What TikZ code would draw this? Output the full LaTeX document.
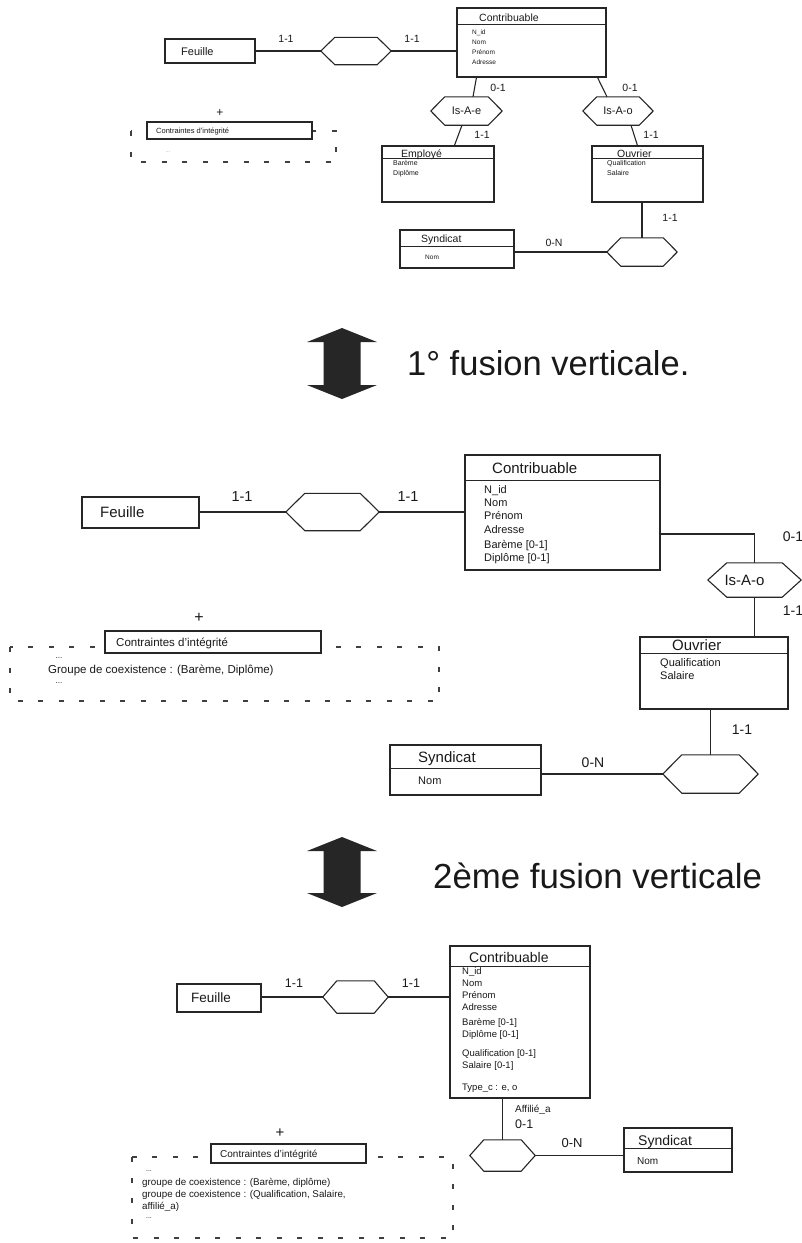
\documentclass[tikz,border=0pt]{standalone}
\usepackage{fontspec}
\setmainfont{Liberation Sans}
\usetikzlibrary{calc}
\newcommand\fs[2]{\fontsize{#1}{#2}\selectfont}
\newcommand\hexa[2]{\draw[ln] (#1.west) -- ($(#1.north west)+(#2,0)$) -- ($(#1.north east)-(#2,0)$) -- (#1.east) -- ($(#1.south east)-(#2,0)$) -- ($(#1.south west)+(#2,0)$) -- cycle;}
\tikzset{
  ln/.style={draw=black!85, line width=1.1pt},
  ent/.style={ln, fill=white, rectangle, inner sep=0pt},
  rel/.style={inner sep=0pt, text=black!90},
  card/.style={inner sep=0pt, text=black!90},
  ttl/.style={inner sep=0pt, anchor=base west, text=black!90},
  att/.style={inner sep=0pt, anchor=north west, align=left, text=black!90},
  dots/.style={draw=black!75, line width=1.3pt, dash pattern=on 5pt off 15.5pt},
  bigarrow/.style={fill=black!85},
}
\begin{document}
\begin{tikzpicture}[x=1pt,y=-1pt]
  \useasboundingbox (0,0) rectangle (801,1243);
  % premier schema
  \node[ent, minimum width=90pt, minimum height=24pt] (f1) at (210,51) {};
  \node[ttl, font=\fs{11}{13}] at (181,55) {Feuille};
  \node[rel, minimum width=70pt, minimum height=27pt] (r1) at (356,51) {};
  \hexa{r1}{14}
  \node[ent, minimum width=149pt, minimum height=69pt] (c1) at (531.5,42.5) {};
  \draw[ln] ($(c1.north west)+(0,17)$) -- ($(c1.north east)+(0,17)$);
  \node[ttl, font=\fs{10.5}{12}] at (479,21) {Contribuable};
  \node[att, font=\fs{6.5}{10}] at (472,29.5) {N\_id\\Nom\\Prénom\\Adresse};
  \node[rel, minimum width=71pt, minimum height=28pt, font=\fs{11}{13}] (e1) at (466.5,111) {Is-A-e};
  \hexa{e1}{14}
  \node[rel, minimum width=70pt, minimum height=28pt, font=\fs{11}{13}] (o1) at (618,111) {Is-A-o};
  \hexa{o1}{14}
  \node[ent, minimum width=112pt, minimum height=56pt] (m1) at (438,174) {};
  \draw[ln] ($(m1.north west)+(0,13)$) -- ($(m1.north east)+(0,13)$);
  \node[ttl, font=\fs{10.5}{12}] at (401,157) {Employé};
  \node[att, font=\fs{7}{10}] at (393,160.5) {Barème\\Diplôme};
  \node[ent, minimum width=111pt, minimum height=56pt] (w1) at (647.5,174) {};
  \draw[ln] ($(w1.north west)+(0,13)$) -- ($(w1.north east)+(0,13)$);
  \node[ttl, font=\fs{10.5}{12}] at (617,157) {Ouvrier};
  \node[att, font=\fs{7}{10}] at (607,160.5) {Qualification\\Salaire};
  \node[rel, minimum width=70pt, minimum height=28pt] (s1) at (642,252) {};
  \hexa{s1}{14}
  \node[ent, minimum width=114pt, minimum height=38pt] (y1) at (457,249) {};
  \draw[ln] ($(y1.north west)+(0,17)$) -- ($(y1.north east)+(0,17)$);
  \node[ttl, font=\fs{10.5}{12}] at (421,242) {Syndicat};
  \node[att, font=\fs{6.5}{8}] at (425,254.5) {Nom};
  \draw[ln] (f1.east |- r1.west) -- (r1.west);
  \draw[ln] (r1.east) -- (r1.east -| c1.west);
  \draw[ln] ($(c1.south west)+(20,0)$) -- ($(e1.north)+(6.5,0)$);
  \draw[ln] ($(e1.south)+(-4.5,0)$) -- ($(m1.north west)+(73,0)$);
  \draw[ln] ($(c1.south east)+(-9,0)$) -- ($(o1.north)+(-11,0)$);
  \draw[ln] ($(o1.south)+(13,0)$) -- ($(w1.north west)+(46,0)$);
  \draw[ln] (s1.north |- w1.south) -- (s1.north);
  \draw[ln] (s1.west -| y1.east) -- (s1.west);
  \node[card, font=\fs{10.5}{12}] at (286,39) {1-1};
  \node[card, font=\fs{10.5}{12}] at (412,39) {1-1};
  \node[card, font=\fs{10.5}{12}] at (498,88) {0-1};
  \node[card, font=\fs{10.5}{12}] at (482,135) {1-1};
  \node[card, font=\fs{10.5}{12}] at (630,88) {0-1};
  \node[card, font=\fs{10.5}{12}] at (651,135) {1-1};
  \node[card, font=\fs{10.5}{12}] at (670,218) {1-1};
  \node[card, font=\fs{10.5}{12}] at (554,243) {0-N};
  \draw[dots] (131,131) rectangle (336,162);
  \node[card, font=\fs{12}{14}] at (220,113) {+};
  \node[ent, minimum width=165pt, minimum height=17pt] (k1) at (229.5,130.5) {};
  \node[ttl, font=\fs{7.5}{9}] at (156,133) {Contraintes d'intégrité};
  \node[card, text=black!35, font=\fs{6}{7}] at (168,152) {...};
  % fleches
  \foreach \cy/\len in {363.5/35.5, 872/35}
    \fill[bigarrow] (342,\cy-\len) -- ++(35,14) -- ++(-16.5,0) -- (360.5,\cy+\len-14) -- ++(16.5,0)
      -- (342,\cy+\len) -- ++(-35,-14) -- ++(16.5,0) -- (323.5,\cy-\len+14) -- ++(-16.5,0) -- cycle;
  \node[ttl, font=\fs{34.5}{40}] at (407,375) {1° fusion verticale.};
  \node[ttl, font=\fs{34.8}{40}] at (433,888) {2ème fusion verticale};
  % deuxieme schema
  \node[ent, minimum width=117pt, minimum height=31pt] (f2) at (140.5,512.5) {};
  \node[ttl, font=\fs{15}{18}] at (100,517.5) {Feuille};
  \node[rel, minimum width=93pt, minimum height=37pt] (r2) at (332.5,512) {};
  \hexa{r2}{19}
  \node[ent, minimum width=195pt, minimum height=115pt] (c2) at (562.5,512.5) {};
  \draw[ln] ($(c2.north west)+(0,26)$) -- ($(c2.north east)+(0,26)$);
  \node[ttl, font=\fs{15}{18}] at (492,473.5) {Contribuable};
  \node[att, font=\fs{11}{13.3}] at (484,485) {N\_id\\Nom\\Prénom\\Adresse\\[2pt]Barème [0-1]\\Diplôme [0-1]};
  \node[rel, minimum width=93pt, minimum height=34pt, font=\fs{15}{18}] (i2) at (754.5,580) {Is-A-o\hspace*{20pt}};
  \hexa{i2}{19}
  \node[ent, minimum width=148pt, minimum height=72pt] (w2) at (714,673) {};
  \draw[ln] ($(w2.north west)+(0,17)$) -- ($(w2.north east)+(0,17)$);
  \node[ttl, font=\fs{15}{18}] at (672,650.4) {Ouvrier};
  \node[att, font=\fs{11}{13}] at (660,658) {Qualification\\Salaire};
  \node[rel, minimum width=95pt, minimum height=38pt] (s2) at (710.5,774) {};
  \hexa{s2}{19}
  \node[ent, minimum width=151pt, minimum height=50pt] (y2) at (465.5,770) {};
  \draw[ln] ($(y2.north west)+(0,24)$) -- ($(y2.north east)+(0,24)$);
  \node[ttl, font=\fs{15}{18}] at (418,762.4) {Syndicat};
  \node[att, font=\fs{11}{13}] at (418,777) {Nom};
  \draw[ln] (f2.east |- r2.west) -- (r2.west);
  \draw[ln] (r2.east) -- (r2.east -| c2.west);
  \draw[ln] ($(c2.east)+(0,21.5)$) -| (i2.north);
  \draw[ln] (i2.south) -- (i2.south |- w2.north);
  \draw[ln] (s2.north |- w2.south) -- (s2.north);
  \draw[ln] (s2.west -| y2.east) -- (s2.west);
  \node[card, font=\fs{14.5}{17}] at (242,497) {1-1};
  \node[card, font=\fs{14.5}{17}] at (408,497) {1-1};
  \node[card, font=\fs{14}{17}] at (793,537) {0-1};
  \node[card, font=\fs{14}{17}] at (793,611) {1-1};
  \node[card, font=\fs{14}{17}] at (742,730) {1-1};
  \node[card, font=\fs{14}{17}] at (593,763) {0-N};
  \draw[dots] (10,647) rectangle (439,701);
  \node[card, font=\fs{16}{18}] at (199,618) {+};
  \node[ent, minimum width=216pt, minimum height=22pt] (k2) at (213,642) {};
  \node[ttl, font=\fs{11.5}{13}] at (116,646) {Contraintes d'intégrité};
  \node[card, font=\fs{8}{9}] at (59,658) {...};
  \node[ttl, font=\fs{11.5}{13}] at (48,673) {Groupe de coexistence : (Barème, Diplôme)};
  \node[card, font=\fs{8}{9}] at (59,683) {...};
  % troisieme schema
  \node[ent, minimum width=84pt, minimum height=28pt] (f3) at (219,998) {};
  \node[ttl, font=\fs{13.5}{16}] at (191,1002) {Feuille};
  \node[rel, minimum width=65pt, minimum height=32pt] (r3) at (355.5,997) {};
  \hexa{r3}{14}
  \node[ent, minimum width=140pt, minimum height=152pt] (c3) at (520,1022) {};
  \draw[ln] ($(c3.north west)+(0,21)$) -- ($(c3.north east)+(0,21)$);
  \node[ttl, font=\fs{14}{16}] at (469,962) {Contribuable};
  \node[att, font=\fs{9.5}{12}] at (462,967.6) {N\_id\\Nom\\Prénom\\Adresse\\[3pt]Barème [0-1]\\Diplôme [0-1]\\[7pt]Qualification [0-1]\\Salaire [0-1]\\[10pt]Type\_c : e, o};
  \node[rel, minimum width=65pt, minimum height=31pt] (t3) at (502.5,1155.5) {};
  \hexa{t3}{14}
  \node[ent, minimum width=108pt, minimum height=44pt] (y3) at (678,1150) {};
  \draw[ln] ($(y3.north west)+(0,21)$) -- ($(y3.north east)+(0,21)$);
  \node[ttl, font=\fs{14}{16}] at (638,1145) {Syndicat};
  \node[att, font=\fs{10}{12}] at (637,1157.5) {Nom};
  \draw[ln] (f3.east |- r3.west) -- (r3.west);
  \draw[ln] (r3.east) -- (r3.east -| c3.west);
  \draw[ln] (t3.north |- c3.south) -- (t3.north);
  \draw[ln] (t3.east) -- (t3.east -| y3.west);
  \node[card, font=\fs{12.5}{14}] at (294,983) {1-1};
  \node[card, font=\fs{12.5}{14}] at (411,983) {1-1};
  \node[ttl, font=\fs{10}{12}] at (515,1112.6) {Affilié\_a};
  \node[card, anchor=west, font=\fs{12.5}{14}] at (515,1124) {0-1};
  \node[card, font=\fs{13}{15}] at (572,1143) {0-N};
  \draw[dots] (132,1157) rectangle (453,1238);
  \node[card, font=\fs{15}{17}] at (280,1133) {+};
  \node[ent, minimum width=155pt, minimum height=19pt] (k3) at (288.5,1153.5) {};
  \node[ttl, font=\fs{10}{12}] at (220,1157.6) {Contraintes d'intégrité};
  \node[card, font=\fs{7}{8}] at (149,1171) {...};
  \node[att, font=\fs{9.8}{12}] at (142,1177.6) {groupe de coexistence : (Barème, diplôme)\\groupe de coexistence : (Qualification, Salaire,\\affilié\_a)};
  \node[card, font=\fs{7}{8}] at (149,1218) {...};
\end{tikzpicture}
\end{document}
